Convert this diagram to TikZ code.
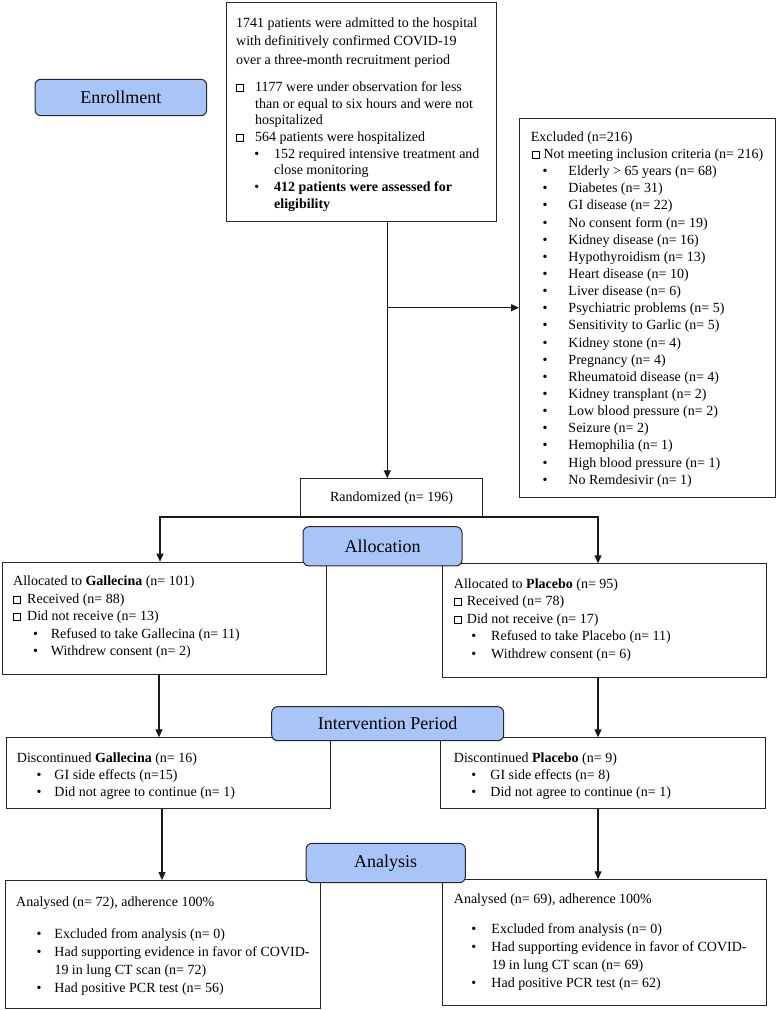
\documentclass[tikz,border=0pt]{standalone}
\usepackage{fontspec}
\setmainfont{Liberation Serif}
\usetikzlibrary{arrows.meta}
\definecolor{hdr}{HTML}{A9C5F8}
\newcommand\sqbox{\raisebox{0.2pt}{\fboxsep=0pt\fboxrule=0.7pt\fbox{\rule{0pt}{6.3pt}\hspace{6.3pt}}}}
\newcommand\Bu[2]{\hspace*{#1}\makebox[#2][l]{\textbullet}}
\newcommand\Sq[1]{\makebox[#1][l]{\sqbox}}
\newcommand\fl{\rule{0pt}{11pt}}
\begin{document}
\begin{tikzpicture}[x=1pt,y=-1pt,
 box/.style={draw=black!85, line width=1pt, fill=white, anchor=north west, inner sep=0},
 hdrbox/.style={draw=black!85, line width=1pt, fill=hdr, rounded corners=6pt, inner sep=0, font=\fontsize{18}{20}\selectfont},
 txt/.style={anchor=north west, inner sep=0, align=left},
 arr/.style={line width=1.2pt, black!90, -{Triangle[length=8pt,width=7pt]}},
]
\useasboundingbox (0,0) rectangle (777,1010);
% white boxes
\node[box, minimum width=270pt, minimum height=219pt] (top) at (226,2) {};
\node[box, minimum width=256pt, minimum height=379pt] (excl) at (519,118) {};
\node[box, minimum width=182pt, minimum height=37.7pt, font=\fontsize{14}{17}\selectfont] (rand) at (300,478.3) {Randomized (n= 196)};
\node[box, minimum width=324pt, minimum height=112.6pt] (galloc) at (2,561.7) {};
\node[box, minimum width=323.7pt, minimum height=113.4pt] (palloc) at (442,563.3) {};
\node[box, minimum width=324.3pt, minimum height=71pt] (gdisc) at (5.7,737.3) {};
\node[box, minimum width=324.4pt, minimum height=71pt] (pdisc) at (440.3,737.3) {};
\node[box, minimum width=315pt, minimum height=128pt] (ganal) at (5,880) {};
\node[box, minimum width=323.7pt, minimum height=125.7pt] (panal) at (442,879.3) {};
% texts
\node[txt, font=\fontsize{14}{16.7}\selectfont] (toptxt) at (236,16) {\fl1741 patients were admitted to the hospital\\[2pt]
with definitively confirmed COVID-19\\[2pt]
over a three-month recruitment period\\[10.1pt]
\Sq{19pt}1177 were under observation for less\\
\hspace*{19pt}than or equal to six hours and were not\\
\hspace*{19pt}hospitalized\\
\Sq{19pt}564 patients were hospitalized\\
\Bu{18.2pt}{19.8pt}152 required intensive treatment and\\
\hspace*{38pt}close monitoring\\
\Bu{18.2pt}{19.8pt}\textbf{412 patients were assessed for}\\
\hspace*{38pt}\textbf{eligibility}};
\node[txt, font=\fontsize{14}{17.14}\selectfont] (excltxt) at (530.7,130.2) {\fl Excluded (n=216)\\
\hspace*{1pt}\Sq{11.6pt}Not meeting inclusion criteria (n= 216)\\
\Bu{11.8pt}{25.8pt}Elderly > 65 years (n= 68)\\
\Bu{11.8pt}{25.8pt}Diabetes (n= 31)\\
\Bu{11.8pt}{25.8pt}GI disease (n= 22)\\
\Bu{11.8pt}{25.8pt}No consent form (n= 19)\\
\Bu{11.8pt}{25.8pt}Kidney disease (n= 16)\\
\Bu{11.8pt}{25.8pt}Hypothyroidism (n= 13)\\
\Bu{11.8pt}{25.8pt}Heart disease (n= 10)\\
\Bu{11.8pt}{25.8pt}Liver disease (n= 6)\\
\Bu{11.8pt}{25.8pt}Psychiatric problems (n= 5)\\
\Bu{11.8pt}{25.8pt}Sensitivity to Garlic (n= 5)\\
\Bu{11.8pt}{25.8pt}Kidney stone (n= 4)\\
\Bu{11.8pt}{25.8pt}Pregnancy (n= 4)\\
\Bu{11.8pt}{25.8pt}Rheumatoid disease (n= 4)\\
\Bu{11.8pt}{25.8pt}Kidney transplant (n= 2)\\
\Bu{11.8pt}{25.8pt}Low blood pressure (n= 2)\\
\Bu{11.8pt}{25.8pt}Seizure (n= 2)\\
\Bu{11.8pt}{25.8pt}Hemophilia (n= 1)\\
\Bu{11.8pt}{25.8pt}High blood pressure (n= 1)\\
\Bu{11.8pt}{25.8pt}No Remdesivir (n= 1)};
\node[txt, font=\fontsize{14}{17.6}\selectfont] (galloctxt) at (13,574.2) {\fl Allocated to \textbf{Gallecina} (n= 101)\\
\Sq{14pt}Received (n= 88)\\
\Sq{14pt}Did not receive (n= 13)\\
\Bu{19.8pt}{17.9pt}Refused to take Gallecina (n= 11)\\
\Bu{19.8pt}{17.9pt}Withdrew consent (n= 2)};
\node[txt, font=\fontsize{14}{17.5}\selectfont] (palloctxt) at (453.7,576.8) {\fl Allocated to \textbf{Placebo} (n= 95)\\
\Sq{13pt}Received (n= 78)\\
\Sq{13pt}Did not receive (n= 17)\\
\Bu{17.5pt}{19.8pt}Refused to take Placebo (n= 11)\\
\Bu{17.5pt}{19.8pt}Withdrew consent (n= 6)};
\node[txt, font=\fontsize{14}{17.2}\selectfont] (gdisctxt) at (16.7,750.8) {\fl Discontinued \textbf{Gallecina} (n= 16)\\
\Bu{19.8pt}{17.8pt}GI side effects (n=15)\\
\Bu{19.8pt}{17.8pt}Did not agree to continue (n= 1)};
\node[txt, font=\fontsize{14}{17.2}\selectfont] (pdisctxt) at (453.7,750.8) {\fl Discontinued \textbf{Placebo} (n= 9)\\
\Bu{17.5pt}{19pt}GI side effects (n= 8)\\
\Bu{17.5pt}{19pt}Did not agree to continue (n= 1)};
\node[txt, font=\fontsize{14}{18}\selectfont] (ganaltxt) at (16,895.2) {\fl Analysed (n= 72), adherence 100\%\\[14.3pt]
\Bu{20.5pt}{17.8pt}Excluded from analysis (n= 0)\\
\Bu{20.5pt}{17.8pt}Had supporting evidence in favor of COVID-\\
\hspace*{38.3pt}19 in lung CT scan (n= 72)\\
\Bu{20.5pt}{17.8pt}Had positive PCR test (n= 56)};
\node[txt, font=\fontsize{14}{18.3}\selectfont] (panaltxt) at (453.7,891.8) {\fl Analysed (n= 69), adherence 100\%\\[11.7pt]
\Bu{17.5pt}{20.1pt}Excluded from analysis (n= 0)\\
\Bu{17.5pt}{20.1pt}Had supporting evidence in favor of COVID-\\
\hspace*{37.6pt}19 in lung CT scan (n= 69)\\
\Bu{17.5pt}{20.1pt}Had positive PCR test (n= 62)};
% connector guides
\coordinate (vx) at (387.3,0);
\coordinate (exj) at (387.3,307.7);
\coordinate (gx) at (160,0);
\coordinate (gx1) at (159,0);
\coordinate (gx2) at (162,0);
\coordinate (px) at (598,0);
% connectors
\draw[arr] (top.south -| vx) -- (rand.north -| vx);
\draw[arr] (exj) -- (exj -| excl.west);
\draw[arr] (rand.south) -| (galloc.north -| gx);
\draw[arr] (rand.south) -| (palloc.north -| px);
\draw[arr] (galloc.south -| gx1) -- (gdisc.north -| gx1);
\draw[arr] (gdisc.south -| gx2) -- (ganal.north -| gx2);
\draw[arr] (palloc.south -| px) -- (pdisc.north -| px);
\draw[arr] (pdisc.south -| px) -- (panal.north -| px);
% header boxes
\node[hdrbox, minimum width=171.7pt, minimum height=36.4pt] (enroll) at (120.85,97.5) {Enrollment};
\node[hdrbox, minimum width=159pt, minimum height=39.3pt] (alloc) at (382.5,546.3) {Allocation};
\node[hdrbox, minimum width=232pt, minimum height=34pt] (interv) at (387.7,723.7) {Intervention Period};
\node[hdrbox, minimum width=159.3pt, minimum height=39.4pt] (analysis) at (385.7,863) {Analysis};
\end{tikzpicture}
\end{document}
